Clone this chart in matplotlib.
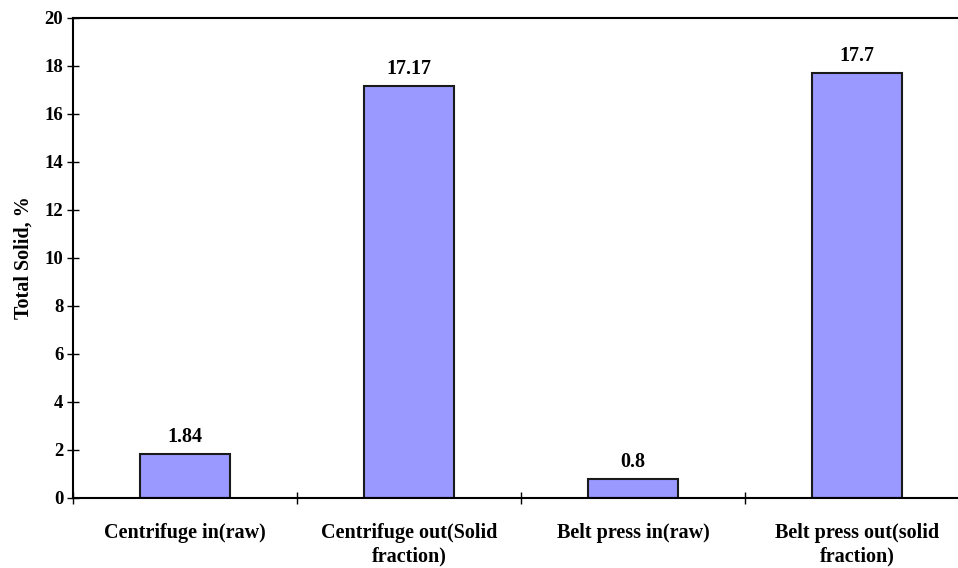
import numpy as np
import matplotlib.pyplot as plt

categories = ["Centrifuge in(raw)", "Centrifuge out(Solid\nfraction)",
              "Belt press in(raw)", "Belt press out(solid\nfraction)"]
total_solid = [1.84, 17.17, 0.8, 17.7]
value_labels = ["1.84", "17.17", "0.8", "17.7"]
y_ticks = [0, 2, 4, 6, 8, 10, 12, 14, 16, 18, 20]

plt.rcParams['font.family'] = ['Liberation Serif', 'DejaVu Serif']
plt.rcParams['font.weight'] = 'bold'

fig = plt.figure(figsize=(9.58, 5.68), dpi=100)
# plot area, right edge runs slightly past the canvas
ax = fig.add_axes([73/958, 70/568, 896/958, 480/568])

x = np.arange(len(categories))
ax.bar(x, total_solid, width=0.4, color='#9999FF', edgecolor='#1a1a1a', linewidth=1.5, zorder=2)

for xi, v, lab in zip(x, total_solid, value_labels):
    ax.annotate(lab, (xi, v), xytext=(0, 5), textcoords='offset points',
                ha='center', va='bottom', fontsize=14.5, fontweight='bold')

ax.set_xlim(-0.5, 3.5)
ax.set_ylim(0, 20)
ax.set_yticks(y_ticks)
ax.set_yticklabels([str(t) for t in y_ticks], fontsize=13.5, fontweight='bold')

# category separators as ticks, labels centred under the bars
ax.set_xticks(np.arange(-0.5, 3.6, 1.0))
ax.set_xticklabels([])
ax.set_xticks(x, minor=True)
ax.set_xticklabels(categories, minor=True, fontsize=14.5, fontweight='bold', linespacing=1.25)
ax.tick_params(axis='x', which='minor', length=0, pad=18)
ax.tick_params(axis='x', which='major', direction='inout', length=9, width=1)
ax.tick_params(axis='y', direction='inout', length=8, width=1, pad=3)

for s in ['left', 'bottom', 'top', 'right']:
    ax.spines[s].set_linewidth(1.5)

ax.set_ylabel("Total Solid, %", fontsize=14.5, fontweight='bold', labelpad=8)

fig.savefig("out.png", dpi=100)
